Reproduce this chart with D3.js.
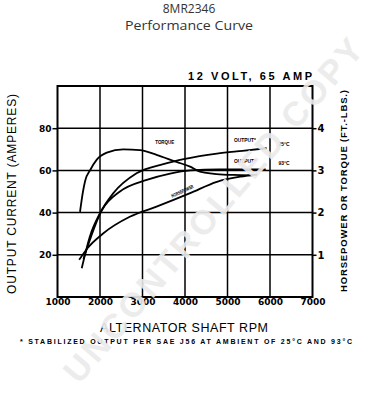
<!DOCTYPE html>
<html>
<head>
    <title>8MR2346 Performance Curve</title>
    <script src="https://d3js.org/d3.v7.min.js"></script>
    <style>
        body { margin: 0; background: #fff; }
        text { font-family: "Liberation Sans", Arial, sans-serif; }
    </style>
</head>
<body>
    <script>
        // data
        const xTicks = [1000, 2000, 3000, 4000, 5000, 6000, 7000];
        const ampTicks = [20, 40, 60, 80];
        const hpTicks = [1, 2, 3, 4];

        // output current, 25°C (amps)
        const out25Rpm = [1570, 1760, 2000, 2310, 2860, 3490, 4000, 4750, 5350, 5920];
        const out25Amp = [13.6, 28.6, 39.7, 49.1, 58.6, 63, 65.5, 68, 69.3, 70.5];
        // output current, 93°C (amps)
        const out93Rpm = [1610, 2040, 2470, 3100, 3650, 4120, 4800, 5500, 5900];
        const out93Amp = [18, 41, 50, 55.5, 58.5, 60, 60.5, 60.5, 60.5];
        // torque (ft-lbs)
        const torqueRpm = [1530, 1600, 1650, 1770, 1920, 2160, 2550, 2940, 3330, 3800, 4120, 4350, 4900, 5300, 5600];
        const torqueVal = [2.02, 2.5, 2.75, 3.01, 3.25, 3.42, 3.5, 3.48, 3.37, 3.2, 3.09, 2.97, 2.9, 2.89, 2.88];
        // horsepower
        const hpRpm = [1510, 1700, 2080, 2700, 3330, 4120, 4750, 5300, 5700];
        const hpVal = [0.88, 1.15, 1.51, 1.9, 2.14, 2.46, 2.73, 2.85, 2.9];

        const W = 378, H = 400;
        const svg = d3.select("body").append("svg")
            .attr("width", W).attr("height", H);

        const x = d3.scaleLinear().domain([1000, 7000]).range([57.5, 312.5]);
        const yAmp = d3.scaleLinear().domain([0, 100]).range([297, 86]);
        const yHp = d3.scaleLinear().domain([0, 5]).range([297, 86]);

        // titles
        svg.append("text").attr("x", 189).attr("y", 13).attr("text-anchor", "middle")
            .style("font-family", "'Open Sans', sans-serif").style("font-size", "12px").attr("fill", "#333")
            .text("8MR2346");
        svg.append("text").attr("x", 189).attr("y", 30).attr("text-anchor", "middle")
            .style("font-family", "'Open Sans', sans-serif").style("font-size", "12px").attr("fill", "#333")
            .attr("textLength", 128).attr("lengthAdjust", "spacingAndGlyphs")
            .text("Performance Curve");

        svg.append("text").attr("x", 188).attr("y", 80)
            .attr("textLength", 124).attr("lengthAdjust", "spacing")
            .style("font-size", "11px").style("font-weight", "bold")
            .text("12 VOLT, 65 AMP");

        // grid
        const grid = svg.append("g").attr("stroke", "#000").attr("stroke-width", 1.5);
        grid.selectAll(".vg").data(xTicks.slice(1, -1)).join("line")
            .attr("x1", d => x(d)).attr("x2", d => x(d))
            .attr("y1", yAmp(100)).attr("y2", yAmp(0));
        grid.selectAll(".hg").data(ampTicks).join("line")
            .attr("x1", x(1000)).attr("x2", x(7000))
            .attr("y1", d => yAmp(d)).attr("y2", d => yAmp(d));

        // axes
        const left = svg.append("g").attr("transform", `translate(${x(1000)},0)`)
            .call(d3.axisLeft(yAmp).tickValues(ampTicks).tickSize(5).tickPadding(1));
        const right = svg.append("g").attr("transform", `translate(${x(7000)},0)`)
            .call(d3.axisRight(yHp).tickValues(hpTicks).tickSize(4).tickPadding(1).tickFormat(d3.format("d")));
        const bottom = svg.append("g").attr("transform", `translate(0,${yAmp(0)})`)
            .call(d3.axisBottom(x).tickValues(xTicks).tickSize(0).tickPadding(2).tickFormat(d3.format("d")));
        [left, right, bottom].forEach(g => {
            g.select(".domain").remove();
            g.selectAll("line").attr("stroke-width", 1.5);
            g.selectAll("text").style("font-family", "'DejaVu Sans', sans-serif")
                .style("font-size", "9px").style("font-weight", "bold");
        });
        right.selectAll("text").style("font-size", "10px");

        svg.append("rect")
            .attr("x", x(1000)).attr("y", yAmp(100))
            .attr("width", x(7000) - x(1000)).attr("height", yAmp(0) - yAmp(100))
            .attr("fill", "none").attr("stroke", "#000").attr("stroke-width", 2);

        // curves
        const lineAmp = d3.line().x(d => x(d[0])).y(d => yAmp(d[1])).curve(d3.curveMonotoneX);
        const lineHp = d3.line().x(d => x(d[0])).y(d => yHp(d[1])).curve(d3.curveMonotoneX);
        const curves = svg.append("g").attr("fill", "none").attr("stroke", "#000").attr("stroke-width", 1.8);
        curves.append("path").attr("d", lineAmp(d3.zip(out25Rpm, out25Amp)));
        curves.append("path").attr("d", lineAmp(d3.zip(out93Rpm, out93Amp)));
        curves.append("path").attr("d", lineHp(d3.zip(torqueRpm, torqueVal)));
        curves.append("path").attr("d", lineHp(d3.zip(hpRpm, hpVal)));

        // curve labels
        const small = (t, px, py, rot, len) => {
            const el = svg.append("text").attr("x", px).attr("y", py)
                .style("font-size", "5px").style("font-weight", "bold").text(t);
            if (len) el.attr("textLength", len).attr("lengthAdjust", "spacingAndGlyphs");
            if (rot) el.attr("transform", `rotate(${rot},${px},${py})`);
        };
        small("TORQUE", x(3300), yAmp(72.5), 0, 19);
        small("OUTPUT*", x(5150), yAmp(73.5), 0, 22);
        small("25°C", x(6200), yAmp(71.5), 0, 11);
        small("OUTPUT*", x(5150), yAmp(63.5), 0, 22);
        small("93°C", x(6200), yAmp(62.5), 0, 11);
        small("HORSEPOWER", x(3700), yAmp(47), -25, 24);

        // axis titles
        svg.append("text")
            .attr("transform", "translate(16,194) rotate(-90)")
            .attr("text-anchor", "middle")
            .attr("textLength", 200).attr("lengthAdjust", "spacing")
            .style("font-size", "12px")
            .text("OUTPUT CURRENT  (AMPERES)");
        svg.append("text")
            .attr("transform", "translate(347,191) rotate(-90)")
            .attr("text-anchor", "middle")
            .attr("textLength", 202).attr("lengthAdjust", "spacing")
            .style("font-size", "9.5px").style("font-weight", "bold")
            .text("HORSEPOWER OR TORQUE (FT.-LBS.)");
        svg.append("text").attr("x", 100).attr("y", 332)
            .attr("textLength", 168).attr("lengthAdjust", "spacing")
            .style("font-size", "12.5px")
            .text("ALTERNATOR SHAFT RPM");
        svg.append("text").attr("x", 20).attr("y", 344)
            .attr("textLength", 332).attr("lengthAdjust", "spacing")
            .style("font-size", "7px").style("font-weight", "bold")
            .text("* STABILIZED OUTPUT PER SAE J56 AT AMBIENT OF 25°C AND 93°C");

        // watermark
        svg.append("text")
            .attr("transform", "translate(222,218) rotate(-49.5)")
            .attr("text-anchor", "middle")
            .attr("textLength", 440).attr("lengthAdjust", "spacing")
            .style("font-size", "34px").style("font-weight", "bold")
            .attr("fill", "#ebebeb")
            .attr("opacity", 0.9)
            .text("UNCONTROLLED COPY");
    </script>
</body>
</html>
